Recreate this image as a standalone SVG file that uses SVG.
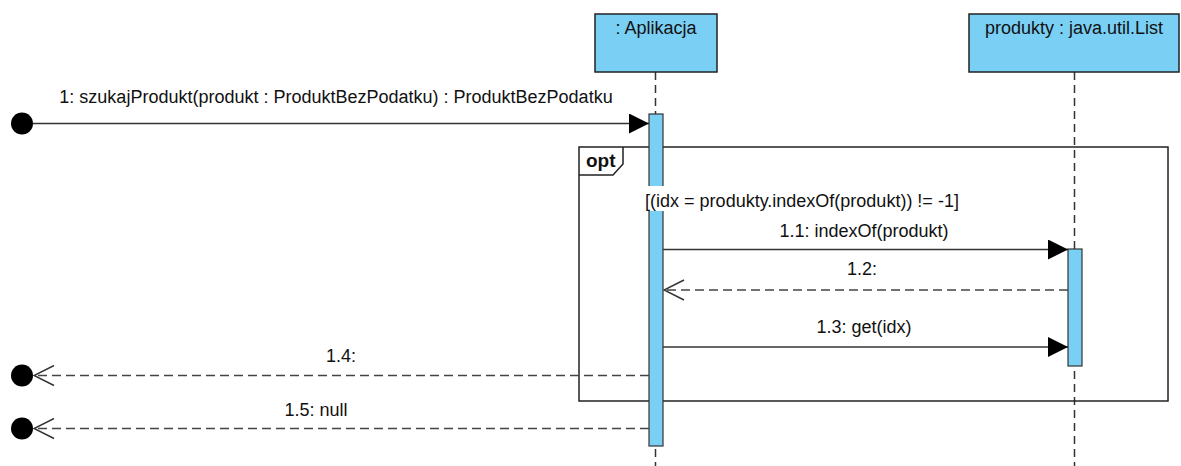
<svg xmlns="http://www.w3.org/2000/svg" width="1181" height="466" viewBox="0 0 1181 466">
<defs>
<style>
text{font-family:"Liberation Sans",Arial,sans-serif;font-size:18px;fill:#111}
.box{fill:#7ACFF5;stroke:#222;stroke-width:1.5}
.bar{fill:#7ACFF5;stroke:#333;stroke-width:1.2}
.life{stroke:#333;stroke-width:1.5;stroke-dasharray:8,5;fill:none}
.msg{stroke:#333;stroke-width:1.5;fill:none}
.ret{stroke:#444;stroke-width:1.5;fill:none;stroke-dasharray:9,5}
.frame{fill:none;stroke:#222;stroke-width:1.5}
</style>
<marker id="filled" viewBox="0 0 20 20" refX="20" refY="10" markerWidth="20" markerHeight="20" markerUnits="userSpaceOnUse" orient="auto"><path d="M0,0 L20,10 L0,20 Z" fill="#000"/></marker>
<marker id="open" viewBox="0 0 22 22" refX="21" refY="11" markerWidth="22" markerHeight="22" markerUnits="userSpaceOnUse" orient="auto"><path d="M1,1 L21,11 L1,21" fill="none" stroke="#333" stroke-width="1.5"/></marker>
</defs>
<rect width="1181" height="466" fill="#fff"/>
<g id="lifelines">
<line class="life" x1="655.5" y1="72" x2="655.5" y2="466"/>
<line class="life" x1="1074.5" y1="72" x2="1074.5" y2="466"/>
</g>
<g id="opt-frame">
<rect class="frame" x="579" y="147" width="589" height="254"/>
<path class="frame" d="M579,175 L613,175 L623,164 L623,147"/>
<text x="586" y="167" style="font-weight:bold;font-size:19px">opt</text>
</g>
<g id="node-aplikacja">
<rect class="box" x="595" y="14" width="122" height="58"/>
<text x="656" y="34" text-anchor="middle">: Aplikacja</text>
</g>
<g id="node-produkty">
<rect class="box" x="969" y="14" width="210" height="58"/>
<text x="1074" y="34" text-anchor="middle">produkty : java.util.List</text>
</g>
<g id="activation-aplikacja"><rect class="bar" x="649" y="114" width="14" height="332"/></g>
<g id="activation-produkty"><rect class="bar" x="1068" y="249" width="14" height="117"/></g>
<g id="guard">
<rect x="641" y="186" width="323" height="25" fill="#fff"/>
<text x="802" y="207" text-anchor="middle">[(idx = produkty.indexOf(produkt)) != -1]</text>
</g>
<g id="start-dots">
<circle cx="22" cy="123.5" r="11" fill="#000"/>
<circle cx="22" cy="375.5" r="11" fill="#000"/>
<circle cx="22" cy="428.5" r="11" fill="#000"/>
</g>
<g id="connectors">
<line class="msg" x1="33" y1="123.5" x2="649" y2="123.5" marker-end="url(#filled)"/>
<text x="336" y="103" text-anchor="middle">1: szukajProdukt(produkt : ProduktBezPodatku) : ProduktBezPodatku</text>
<line class="msg" x1="663" y1="249.5" x2="1068" y2="249.5" marker-end="url(#filled)"/>
<text x="864" y="237" text-anchor="middle">1.1: indexOf(produkt)</text>
<line class="ret" x1="1068" y1="290" x2="664" y2="290" marker-end="url(#open)"/>
<text x="862" y="275" text-anchor="middle">1.2:</text>
<line class="msg" x1="663" y1="347" x2="1068" y2="347" marker-end="url(#filled)"/>
<text x="864" y="333" text-anchor="middle">1.3: get(idx)</text>
<line class="ret" x1="649" y1="375.5" x2="34" y2="375.5" marker-end="url(#open)"/>
<text x="341" y="362" text-anchor="middle">1.4:</text>
<line class="ret" x1="649" y1="428.5" x2="34" y2="428.5" marker-end="url(#open)"/>
<text x="316" y="416" text-anchor="middle">1.5: null</text>
</g>
</svg>
